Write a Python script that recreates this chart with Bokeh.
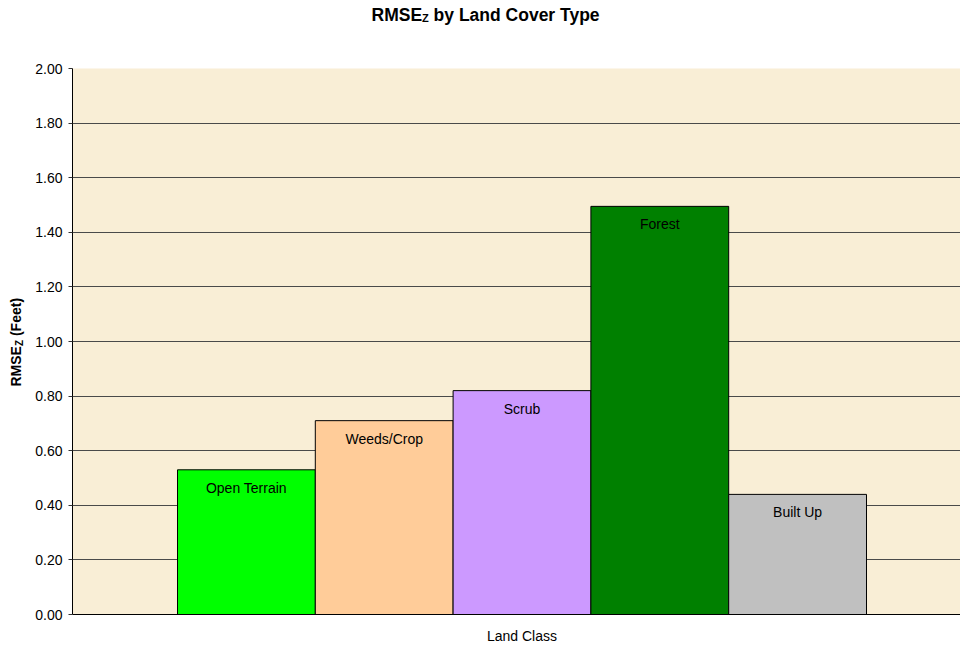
import math
from bokeh.plotting import figure
from bokeh.models import Label, FixedTicker, NumeralTickFormatter, ColumnDataSource, Range1d
from bokeh.core.properties import value
from bokeh.embed import file_html
from bokeh.resources import INLINE

categories = ["Open Terrain", "Weeds/Crop", "Scrub", "Forest", "Built Up"]
rmse_values = [0.53, 0.71, 0.82, 1.495, 0.44]
bar_colors = ["#00FF00", "#FFCC99", "#CC99FF", "#008000", "#C0C0C0"]
y_ticks = [0.0, 0.2, 0.4, 0.6, 0.8, 1.0, 1.2, 1.4, 1.6, 1.8, 2.0]

FONT = "Liberation Sans"
W, H = 960, 647
FL, FT, FB = 72, 68, 614          # frame left/top/bottom within figure
PX_PER_BAR = 137.8
X0 = -0.5 - 105 / PX_PER_BAR
X1 = X0 + (W - FL) / PX_PER_BAR
PX_PER_Y = (FB - FT) / 2.0

def X(px):  # figure pixel -> data x
    return X0 + (px - FL) / PX_PER_BAR

def Y(py):  # figure pixel -> data y
    return (FB - py) / PX_PER_Y

p = figure(width=W, height=H, output_backend="svg", toolbar_location=None,
           x_range=Range1d(X0, X1), y_range=Range1d(0, 2),
           min_border_left=FL, min_border_right=0, min_border_top=FT,
           min_border_bottom=H - FB, background_fill_color="#F9EED6",
           border_fill_color="white", outline_line_color=None)

src = ColumnDataSource(dict(x=list(range(len(categories))), top=rmse_values,
                            color=bar_colors, name=categories))
p.vbar(x="x", top="top", width=1.0, fill_color="color", line_color="black",
       line_width=1, source=src)
p.text(x="x", y="top", text="name", source=src, text_align="center",
       text_baseline="middle", y_offset=18, text_font=value(FONT),
       text_font_size="14px", text_color="black")

p.yaxis.ticker = FixedTicker(ticks=y_ticks)
p.yaxis.formatter = NumeralTickFormatter(format="0.00")
p.yaxis.major_label_text_font = FONT
p.yaxis.major_label_text_font_size = "14px"
p.yaxis.major_label_text_color = "black"
p.yaxis.major_tick_out = 4
p.yaxis.major_tick_in = 0
p.yaxis.minor_tick_line_color = None
p.yaxis.major_label_standoff = 6
p.yaxis.axis_line_color = "black"
p.yaxis.major_tick_line_color = "#333333"

p.xaxis.ticker = FixedTicker(ticks=[])
p.xaxis.minor_tick_line_color = None
p.xaxis.major_tick_out = 0
p.xaxis.major_tick_in = 0
p.xaxis.major_label_standoff = 0
p.xaxis.axis_line_color = "black"
p.xgrid.grid_line_color = None
p.ygrid.ticker = FixedTicker(ticks=y_ticks)
p.ygrid.grid_line_color = "#4a4a4a"
p.ygrid.grid_line_width = 1

def lab(text, xpx, ypx, size, place, bold=True, angle=0.0, align="left", baseline="alphabetic"):
    p.add_layout(Label(x=X(xpx), y=Y(ypx), text=text, text_font=FONT,
                       text_font_size=f"{size}px",
                       text_font_style="bold" if bold else "normal",
                       text_color="black", text_baseline=baseline,
                       text_align=align, angle=angle), place)

# Title: RMSE_Z by Land Cover Type
tsize = 17.5
t_left = 371
tb = 14
w_rmse = 2.889 * tsize
lab("RMSE", t_left, tb, tsize, "above")
lab("Z", t_left + w_rmse, tb + 3, 11, "above")
lab("by Land Cover Type", t_left + w_rmse + 6.7 + 0.278 * tsize, tb, tsize, "above")

# Y axis label: RMSE_Z (Feet), rotated
ysize = 14
yb = 15.5
ystart = 386
w2 = 2.889 * ysize
lab("RMSE", yb, ystart, ysize, "left", angle=math.pi / 2)
lab("Z", yb + 3, ystart - w2, 10, "below", angle=math.pi / 2)
lab("(Feet)", yb, ystart - w2 - 6.1 - 0.278 * ysize, ysize, "left", angle=math.pi / 2)

# X axis label
p.add_layout(Label(x=2, y=Y(635), text="Land Class", text_font=FONT, text_color="black",
                   text_font_size="14px", text_baseline="middle", text_align="center"), "below")

open("out.html", "w").write(file_html(p, INLINE))
